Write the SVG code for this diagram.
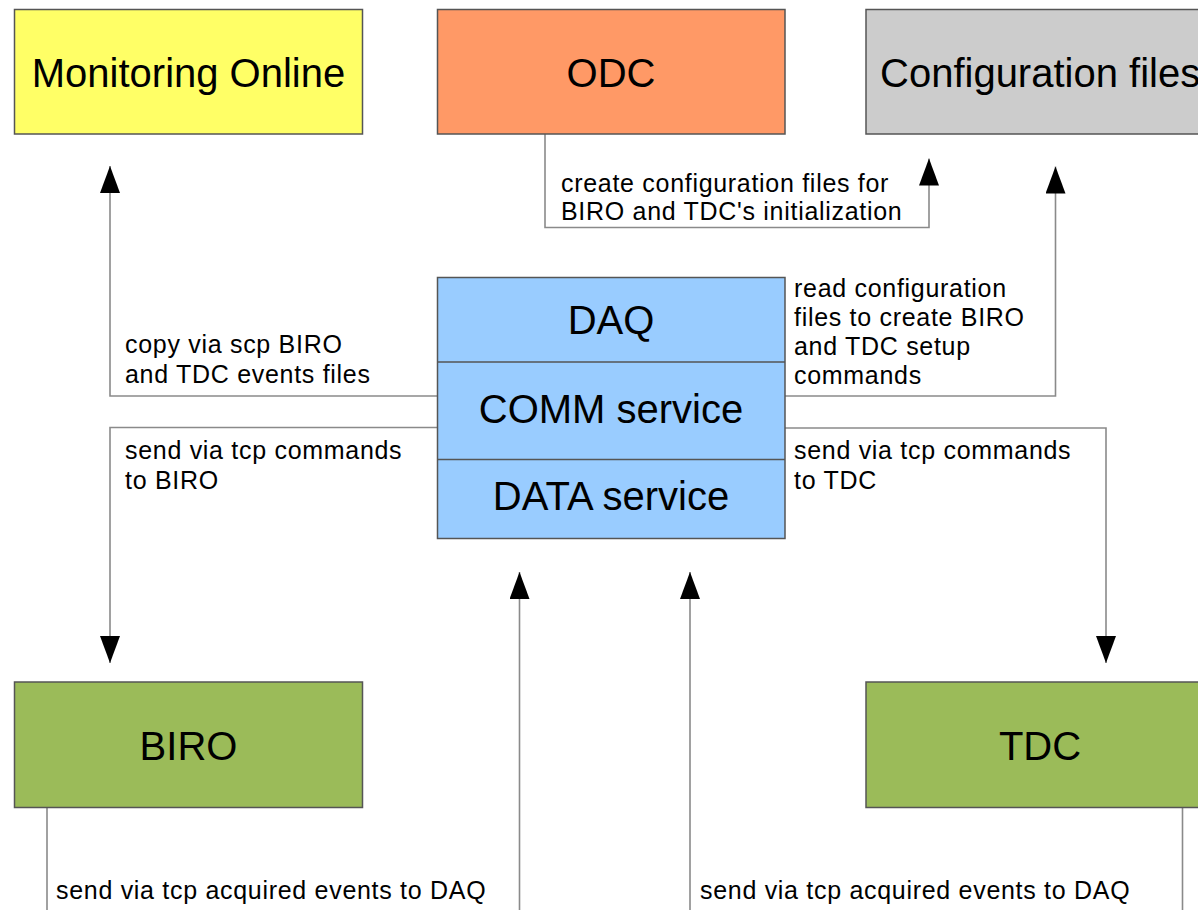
<svg xmlns="http://www.w3.org/2000/svg" width="1198" height="910" viewBox="0 0 1198 910">
<style>
.box{stroke:#555;stroke-width:1.5}
.big{font-family:"Liberation Sans",Arial,sans-serif;font-size:40px;fill:#000;text-anchor:middle}
.lbl{font-family:"Liberation Sans",Arial,sans-serif;font-size:25px;letter-spacing:0.7px;fill:#000}
.conn{fill:none;stroke:#8a8a8a;stroke-width:1.6}
</style>
<defs>
<marker id="arr" viewBox="0 0 27 20" refX="27" refY="10" markerWidth="27" markerHeight="20" markerUnits="userSpaceOnUse" orient="auto">
<path d="M0,0 L27,10 L0,20 Z" fill="#000"/>
</marker>
</defs>
<rect width="1198" height="910" fill="#fff"/>
<g id="connectors">
<path class="conn" d="M437,396 H110 V166" marker-end="url(#arr)"/>
<path class="conn" d="M437,427.5 H110 V663" marker-end="url(#arr)"/>
<path class="conn" d="M785,396 H1055.5 V166.5" marker-end="url(#arr)"/>
<path class="conn" d="M785,428 H1106 V663" marker-end="url(#arr)"/>
<path class="conn" d="M545,134 V227.5 H929 V158.5" marker-end="url(#arr)"/>
<path class="conn" d="M47,808 V940 H519.5 V572" marker-end="url(#arr)"/>
<path class="conn" d="M1182.5,808 V940 H690 V572" marker-end="url(#arr)"/>
<g id="labels">
<text class="lbl" x="561" y="191.5">create configuration files for</text>
<text class="lbl" x="561" y="219.5">BIRO and TDC's initialization</text>
<text class="lbl" x="125" y="352.5">copy via scp BIRO</text>
<text class="lbl" x="125" y="382.5">and TDC events files</text>
<text class="lbl" x="125" y="458.5">send via tcp commands</text>
<text class="lbl" x="125" y="488.5">to BIRO</text>
<text class="lbl" x="794" y="296.5">read configuration</text>
<text class="lbl" x="794" y="325.5">files to create BIRO</text>
<text class="lbl" x="794" y="354.5">and TDC setup</text>
<text class="lbl" x="794" y="383.5">commands</text>
<text class="lbl" x="794" y="458.5">send via tcp commands</text>
<text class="lbl" x="794" y="488.5">to TDC</text>
<text class="lbl" x="56" y="899">send via tcp acquired events to DAQ</text>
<text class="lbl" x="700" y="899">send via tcp acquired events to DAQ</text>
</g>
</g>
<g id="monitoring">
<rect class="box" x="14.5" y="9.5" width="348" height="124.5" fill="#FFFF66"/>
<text class="big" x="188.5" y="87">Monitoring Online</text>
</g>
<g id="odc">
<rect class="box" x="437.5" y="9.5" width="347.5" height="124.5" fill="#FF9966"/>
<text class="big" x="611" y="87">ODC</text>
</g>
<g id="config">
<rect class="box" x="866" y="9.5" width="348" height="124.5" fill="#CCCCCC"/>
<text class="big" x="880" y="87" style="text-anchor:start">Configuration files</text>
</g>
<g id="daq">
<rect class="box" x="437.5" y="277.5" width="347.5" height="261" fill="#99CCFF"/>
<line class="box" x1="437.5" y1="362" x2="785" y2="362"/>
<line class="box" x1="437.5" y1="459.5" x2="785" y2="459.5"/>
<text class="big" x="611" y="334">DAQ</text>
<text class="big" x="611" y="423">COMM service</text>
<text class="big" x="611" y="510">DATA service</text>
</g>
<g id="biro">
<rect class="box" x="14.5" y="682" width="348" height="125.5" fill="#9BBB59"/>
<text class="big" x="188.5" y="760">BIRO</text>
</g>
<g id="tdc">
<rect class="box" x="866" y="682" width="348" height="125.5" fill="#9BBB59"/>
<text class="big" x="1040" y="760">TDC</text>
</g>
</svg>
